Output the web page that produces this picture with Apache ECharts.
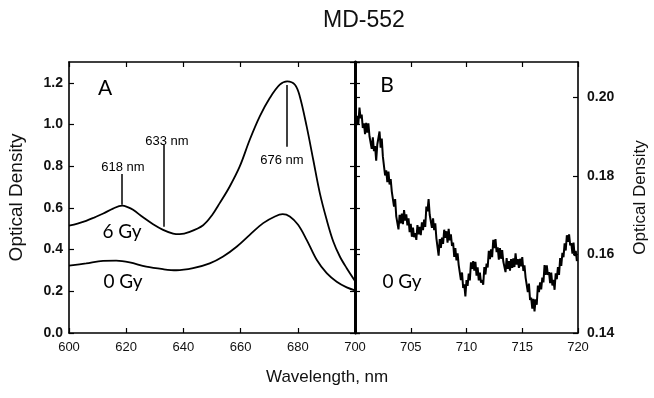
<!DOCTYPE html>
<html>
<head>
<meta charset="utf-8">
<script src="https://cdn.jsdelivr.net/npm/echarts@6/dist/echarts.min.js"></script>
<style>html,body{margin:0;padding:0;background:#fff;}#c{width:654px;height:398px;}</style>
</head>
<body>
<div id="c"></div>
<script>
// ---- Panel A: absorbance spectra (wavelength nm, optical density)
const spectrum6Gy = [[600,0.515],[603,0.525],[606,0.538],[609,0.555],[612,0.573],[615.4,0.597],[618.6,0.611],[620.5,0.604],[622.4,0.591],[625.9,0.555],[629.4,0.522],[632.9,0.495],[636.4,0.477],[638.7,0.474],[642.2,0.485],[646.9,0.517],[650,0.565],[652.7,0.623],[656.2,0.703],[659.7,0.799],[663.2,0.927],[666.7,1.039],[670.2,1.127],[673.7,1.191],[676.3,1.207],[679,1.191],[680.7,1.135],[683.1,0.991],[685.4,0.831],[687.7,0.671],[690.1,0.543],[692.4,0.439],[694.7,0.367],[697.1,0.311],[700,0.25]];
const spectrum0Gy = [[600,0.323],[606,0.334],[611.9,0.346],[616.5,0.347],[621.2,0.339],[627,0.318],[632.9,0.306],[637.5,0.301],[643.4,0.311],[649.2,0.334],[653.9,0.367],[658.6,0.414],[663.2,0.471],[667.9,0.527],[672,0.559],[674.7,0.570],[677.2,0.559],[680.1,0.519],[683.1,0.447],[686.6,0.351],[690.1,0.287],[693.6,0.246],[697.1,0.219],[700,0.205]];
// peak markers: [wavelength, OD at curve, OD at line end]
const peakMarks = [[618.6,0.615,0.763],[633.2,0.510,0.903],[676.1,1.190,0.893]];
const peakLabels = ['618 nm','633 nm','676 nm'];
// ---- Panel B: 0 Gy, 700-720 nm
const panelB0Gy = [
[700.0,0.1949],[700.1,0.1928],[700.2,0.1953],[700.3,0.1932],[700.4,0.1974],[700.5,0.1947],[700.6,0.1956],[700.7,0.1922],[700.8,0.1934],[700.9,0.1906],
[701.0,0.1935],[701.1,0.1910],[701.2,0.1934],[701.3,0.1901],[701.4,0.1902],[701.5,0.1869],[701.6,0.1898],[701.7,0.1863],[701.8,0.1876],[701.9,0.1839],
[702.0,0.1880],[702.1,0.1878],[702.2,0.1913],[702.3,0.1872],[702.4,0.1895],[702.5,0.1849],[702.6,0.1846],[702.7,0.1801],[702.8,0.1814],[702.9,0.1784],
[703.0,0.1811],[703.1,0.1778],[703.2,0.1792],[703.3,0.1760],[703.4,0.1759],[703.5,0.1722],[703.6,0.1741],[703.7,0.1697],[703.8,0.1700],[703.9,0.1664],
[704.0,0.1701],[704.1,0.1679],[704.2,0.1704],[704.3,0.1677],[704.4,0.1713],[704.5,0.1686],[704.6,0.1702],[704.7,0.1674],[704.8,0.1692],[704.9,0.1657],
[705.0,0.1678],[705.1,0.1645],[705.2,0.1668],[705.3,0.1644],[705.4,0.1654],[705.5,0.1637],[705.6,0.1675],[705.7,0.1651],[705.8,0.1670],[705.9,0.1649],
[706.0,0.1682],[706.1,0.1662],[706.2,0.1689],[706.3,0.1670],[706.4,0.1722],[706.5,0.1710],[706.6,0.1741],[706.7,0.1701],[706.8,0.1706],[706.9,0.1668],
[707.0,0.1692],[707.1,0.1662],[707.2,0.1679],[707.3,0.1641],[707.4,0.1637],[707.5,0.1597],[707.6,0.1639],[707.7,0.1617],[707.8,0.1643],[707.9,0.1627],
[708.0,0.1663],[708.1,0.1642],[708.2,0.1659],[708.3,0.1630],[708.4,0.1665],[708.5,0.1636],[708.6,0.1651],[708.7,0.1622],[708.8,0.1630],[708.9,0.1594],
[709.0,0.1616],[709.1,0.1585],[709.2,0.1603],[709.3,0.1573],[709.4,0.1572],[709.5,0.1535],[709.6,0.1554],[709.7,0.1515],[709.8,0.1524],[709.9,0.1493],
[710.0,0.1535],[710.1,0.1520],[710.2,0.1551],[710.3,0.1534],[710.4,0.1580],[710.5,0.1563],[710.6,0.1583],[710.7,0.1559],[710.8,0.1581],[710.9,0.1546],
[711.0,0.1567],[711.1,0.1534],[711.2,0.1554],[711.3,0.1528],[711.4,0.1535],[711.5,0.1523],[711.6,0.1568],[711.7,0.1549],[711.8,0.1577],[711.9,0.1567],
[712.0,0.1609],[712.1,0.1588],[712.2,0.1613],[712.3,0.1593],[712.4,0.1637],[712.5,0.1616],[712.6,0.1639],[712.7,0.1606],[712.8,0.1618],[712.9,0.1587],
[713.0,0.1616],[713.1,0.1589],[713.2,0.1611],[713.3,0.1582],[713.4,0.1586],[713.5,0.1555],[713.6,0.1591],[713.7,0.1563],[713.8,0.1583],[713.9,0.1559],
[714.0,0.1588],[714.1,0.1566],[714.2,0.1590],[714.3,0.1568],[714.4,0.1603],[714.5,0.1574],[714.6,0.1588],[714.7,0.1566],[714.8,0.1589],[714.9,0.1570],
[715.0,0.1593],[715.1,0.1558],[715.2,0.1572],[715.3,0.1541],[715.4,0.1539],[715.5,0.1504],[715.6,0.1526],[715.7,0.1484],[715.8,0.1490],[715.9,0.1462],
[716.0,0.1487],[716.1,0.1455],[716.2,0.1486],[716.3,0.1472],[716.4,0.1521],[716.5,0.1504],[716.6,0.1529],[716.7,0.1511],[716.8,0.1541],[716.9,0.1529],
[717.0,0.1573],[717.1,0.1548],[717.2,0.1572],[717.3,0.1548],[717.4,0.1555],[717.5,0.1527],[717.6,0.1554],[717.7,0.1521],[717.8,0.1535],[717.9,0.1510],
[718.0,0.1552],[718.1,0.1537],[718.2,0.1568],[718.3,0.1548],[718.4,0.1591],[718.5,0.1571],[718.6,0.1604],[718.7,0.1593],[718.8,0.1628],[718.9,0.1610],
[719.0,0.1649],[719.1,0.1632],[719.2,0.1651],[719.3,0.1623],[719.4,0.1629],[719.5,0.1602],[719.6,0.1630],[719.7,0.1596],[719.8,0.1609],[719.9,0.1583]
];
const ticksA_x = {min:600, max:700, interval:20};
const ticksA_y = {min:0, max:1.3, interval:0.2};
const ticksB_x = {min:700, max:720, interval:5};
const ticksB_y = {min:0.14, max:0.209, interval:0.02};

const chart = echarts.init(document.getElementById('c'), null, {renderer:'canvas'});
const FONT = 'Liberation Sans';
const blk = '#111';
const axLine = (w)=>({show:true, onZero:false, lineStyle:{color:'#000', width:w}});
const tick = {show:true, inside:true, length:5, lineStyle:{color:'#000', width:1.2}};

const grids = [
  {left:69, top:62, width:286, height:271},
  {left:355, top:62, width:223, height:271}
];

const xAxes = [
  Object.assign({type:'value', gridIndex:0, position:'bottom', axisLine:axLine(1.6), axisTick:tick, splitLine:{show:false},
    axisLabel:{fontFamily:FONT, fontSize:13, color:blk, margin:8}}, ticksA_x),
  Object.assign({type:'value', gridIndex:0, position:'top', axisLine:axLine(1.6), axisTick:tick, splitLine:{show:false},
    axisLabel:{show:false}}, ticksA_x),
  Object.assign({type:'value', gridIndex:1, position:'bottom', axisLine:axLine(1.6), axisTick:tick, splitLine:{show:false},
    axisLabel:{fontFamily:FONT, fontSize:13, color:blk, margin:8, showMinLabel:false}}, ticksB_x),
  Object.assign({type:'value', gridIndex:1, position:'top', axisLine:axLine(1.6), axisTick:tick, splitLine:{show:false},
    axisLabel:{show:false}}, ticksB_x)
];

const yAxes = [
  Object.assign({type:'value', gridIndex:0, position:'left', axisLine:axLine(1.6), axisTick:tick, splitLine:{show:false},
    axisLabel:{fontFamily:FONT, fontSize:14, fontWeight:'bold', color:blk, margin:6, showMaxLabel:false, formatter:v=>v.toFixed(1)},
    name:'Optical Density', nameLocation:'middle', nameRotate:90, nameGap:43,
    nameTextStyle:{fontFamily:FONT, fontSize:19, color:blk}}, ticksA_y),
  Object.assign({type:'value', gridIndex:0, position:'right', axisLine:axLine(2.6), axisTick:tick, splitLine:{show:false},
    axisLabel:{show:false}}, ticksA_y),
  Object.assign({type:'value', gridIndex:1, position:'right', axisLine:axLine(1.6), axisTick:tick, splitLine:{show:false},
    axisLabel:{fontFamily:FONT, fontSize:14, fontWeight:'bold', color:blk, margin:9, showMaxLabel:false, formatter:v=>v.toFixed(2)},
    name:'Optical Density', nameLocation:'middle', nameRotate:90, nameGap:54,
    nameTextStyle:{fontFamily:FONT, fontSize:17, color:blk}}, ticksB_y),
  Object.assign({type:'value', gridIndex:1, position:'left', axisLine:axLine(2.6), axisTick:tick, splitLine:{show:false},
    axisLabel:{show:false}}, ticksB_y),
  Object.assign({type:'value', gridIndex:1, position:'left', axisLine:axLine(2.6), axisTick:tick, splitLine:{show:false},
    axisLabel:{show:false}}, ticksA_y)
];

const lineStyle = {color:'#000', width:1.8};
const series = [
  {type:'line', name:'6 Gy', xAxisIndex:0, yAxisIndex:0, data:spectrum6Gy, smooth:0.35, showSymbol:false, lineStyle:lineStyle, silent:true,
    markLine:{silent:true, symbol:'none', label:{show:false}, lineStyle:{color:'#000', width:1.5, type:'solid'},
      data: peakMarks.map(p=>[{coord:[p[0],p[1]]},{coord:[p[0],p[2]]}])}},
  {type:'line', name:'0 Gy', xAxisIndex:0, yAxisIndex:0, data:spectrum0Gy, smooth:0.35, showSymbol:false, lineStyle:lineStyle, silent:true},
  {type:'line', name:'0 Gy B', xAxisIndex:2, yAxisIndex:2, data:panelB0Gy, smooth:false, showSymbol:false, lineStyle:{color:'#000', width:2}, silent:true}
];

const serifish = 'Lato';
function txt(x,y,s,size,font){
  return {type:'text', x:x, y:y, style:{text:s, fontFamily:font, fontSize:size, fill:'#000', align:'center', verticalAlign:'middle'}, silent:true};
}

chart.setOption({
  backgroundColor:'#fff',
  animation:false,
  title:[
    {text:'MD-552', left:318, top:4, textStyle:{fontFamily:FONT, fontSize:23, fontWeight:'normal', color:blk}},
    {text:'Wavelength, nm', left:261, top:364, textStyle:{fontFamily:FONT, fontSize:17, fontWeight:'normal', color:blk}}
  ],
  grid:grids,
  xAxis:xAxes,
  yAxis:yAxes,
  series:series,
  graphic:[
    txt(105,88,'A',21,serifish),
    txt(387,85,'B',21,serifish),
    txt(122,232,'6 Gy',19,serifish),
    txt(123,282,'0 Gy',19,serifish),
    txt(402,282,'0 Gy',19,serifish),
    txt(123,167,peakLabels[0],13,FONT),
    txt(167,141,peakLabels[1],13,FONT),
    txt(282,160,peakLabels[2],13,FONT)
  ]
});
</script>
</body>
</html>
